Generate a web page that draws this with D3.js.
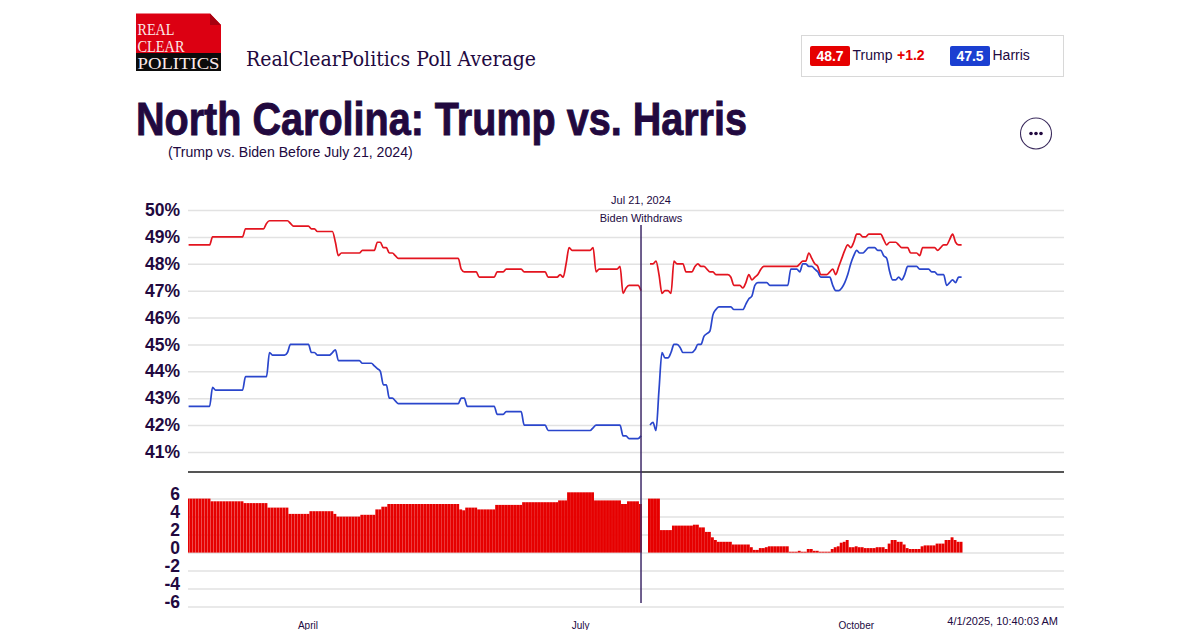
<!DOCTYPE html>
<html>
<head>
<meta charset="utf-8">
<script src="https://d3js.org/d3.v7.min.js"></script>
<style>
html,body{margin:0;padding:0;background:#fff;overflow:hidden}
svg{display:block}
text{font-family:"Liberation Sans",Arial,sans-serif}
</style>
</head>
<body>
<svg id="c" width="1200" height="630"></svg>
<script>
const startDate = "2024-02-21";
const endDate = "2024-11-05";
const pollTicks = [50,49,48,47,46,45,44,43,42,41];
const spreadTicks = [6,4,2,0,-2,-4,-6];
const monthTicks = ["2024-04-01","2024-07-01","2024-10-01"];
const eventDate = "2024-07-21";
const eventLabels = ["Jul 21, 2024","Biden Withdraws"];
const titleText = "North Carolina: Trump vs. Harris";
const subTitleText = "(Trump vs. Biden Before July 21, 2024)";
const sourceText = "RealClearPolitics Poll Average";
const stampText = "4/1/2025, 10:40:03 AM";
const names = ["Trump","Harris"];
const latest = ["48.7","47.5"];
const lead = "+1.2";

// daily values, ten per row, starting at startDate
const trump = [
48.7,48.7,48.7,48.7,48.7,48.7,48.7,48.7,49.0,49.0,
49.0,49.0,49.0,49.0,49.0,49.0,49.0,49.0,49.0,49.3,
49.3,49.3,49.3,49.3,49.3,49.3,49.5,49.6,49.6,49.6,
49.6,49.6,49.6,49.6,49.5,49.4,49.4,49.4,49.4,49.4,
49.4,49.3,49.3,49.2,49.2,49.2,49.2,49.2,49.2,48.8,
48.3,48.4,48.4,48.4,48.4,48.4,48.4,48.4,48.5,48.5,
48.5,48.5,48.5,48.8,48.8,48.6,48.6,48.4,48.4,48.3,
48.2,48.2,48.2,48.2,48.2,48.2,48.2,48.2,48.2,48.2,
48.2,48.2,48.2,48.2,48.2,48.2,48.2,48.2,48.2,48.2,
48.2,47.8,47.7,47.7,47.7,47.7,47.7,47.5,47.5,47.5,
47.5,47.5,47.5,47.7,47.7,47.7,47.8,47.8,47.8,47.8,
47.8,47.8,47.7,47.7,47.7,47.7,47.7,47.7,47.7,47.7,
47.5,47.5,47.5,47.5,47.6,47.5,48.0,48.6,48.5,48.5,
48.5,48.5,48.5,48.5,48.5,48.6,47.7,47.8,47.8,47.8,
47.8,47.8,47.8,47.8,47.9,46.9,47.1,47.2,47.2,47.2,
47.2,47.0,null,null,48.0,48.0,48.1,47.6,46.9,47.0,
47.0,46.9,48.1,48.0,48.0,48.0,47.7,47.7,47.7,47.9,
48.0,47.9,47.9,47.8,47.7,47.7,47.6,47.6,47.6,47.6,
47.6,47.5,47.2,47.2,47.2,47.1,47.3,47.6,47.4,47.5,
47.6,47.8,47.9,47.9,47.9,47.9,47.9,47.9,47.9,47.9,
47.9,47.9,47.9,47.9,48.0,48.1,48.1,48.4,48.2,48.0,
47.9,47.6,47.6,47.6,47.7,47.8,47.6,47.9,48.2,48.5,
48.7,48.6,48.8,49.1,49.1,49.0,49.0,49.1,49.1,49.1,
49.1,49.1,48.9,48.7,48.8,48.8,48.8,48.7,48.6,48.6,
48.6,48.4,48.4,48.4,48.3,48.6,48.6,48.6,48.6,48.6,
48.5,48.6,48.7,48.7,48.9,49.1,48.8,48.7,48.7];

const harris = [
42.7,42.7,42.7,42.7,42.7,42.7,42.7,42.7,43.4,43.3,
43.3,43.3,43.3,43.3,43.3,43.3,43.3,43.3,43.3,43.8,
43.8,43.8,43.8,43.8,43.8,43.8,43.8,44.7,44.6,44.6,
44.6,44.6,44.6,44.7,45.0,45.0,45.0,45.0,45.0,45.0,
45.0,44.7,44.7,44.6,44.6,44.6,44.6,44.6,44.7,44.8,
44.4,44.4,44.4,44.4,44.4,44.4,44.4,44.4,44.3,44.3,
44.3,44.3,44.2,44.1,44.0,43.5,43.5,43.0,43.0,42.9,
42.8,42.8,42.8,42.8,42.8,42.8,42.8,42.8,42.8,42.8,
42.8,42.8,42.8,42.8,42.8,42.8,42.8,42.8,42.8,42.8,
42.8,43.0,43.0,42.7,42.7,42.7,42.7,42.7,42.7,42.7,
42.7,42.7,42.7,42.4,42.4,42.4,42.5,42.5,42.5,42.5,
42.5,42.5,42.0,42.0,42.0,42.0,42.0,42.0,42.0,42.0,
41.8,41.8,41.8,41.8,41.8,41.8,41.8,41.8,41.8,41.8,
41.8,41.8,41.8,41.8,41.8,41.9,42.0,42.0,42.0,42.0,
42.0,42.0,42.0,42.0,42.0,41.6,41.6,41.5,41.5,41.5,
41.5,41.6,null,null,42.0,42.1,41.8,43.3,44.7,44.5,
44.5,44.7,45.0,45.0,44.9,44.7,44.7,44.7,44.7,44.8,
45.0,45.0,45.3,45.4,45.5,46.1,46.3,46.4,46.4,46.4,
46.4,46.4,46.3,46.3,46.3,46.3,46.5,46.7,46.8,47.2,
47.3,47.3,47.3,47.3,47.2,47.2,47.2,47.2,47.2,47.2,
47.2,47.8,47.8,47.8,47.7,48.0,48.0,47.9,47.9,47.8,
47.7,47.5,47.5,47.5,47.5,47.2,47.0,47.0,47.1,47.3,
47.6,48.0,48.3,48.5,48.4,48.4,48.5,48.6,48.6,48.6,
48.5,48.5,48.3,48.2,47.7,47.4,47.4,47.5,47.4,47.6,
47.9,47.9,47.9,47.9,47.8,47.8,47.8,47.8,47.7,47.7,
47.6,47.6,47.6,47.2,47.3,47.4,47.3,47.5,47.5];

const spread = [
6.0,6.0,6.0,6.0,6.0,6.0,6.0,6.0,5.7,5.7,
5.7,5.7,5.7,5.7,5.7,5.7,5.7,5.7,5.7,5.5,
5.5,5.5,5.5,5.5,5.5,5.5,5.5,5.0,5.0,5.0,
5.0,5.0,5.0,5.0,4.3,4.3,4.3,4.3,4.3,4.3,
4.3,4.6,4.6,4.6,4.6,4.6,4.6,4.6,4.6,4.3,
4.0,4.0,4.0,4.0,4.0,4.0,4.0,4.0,4.2,4.2,
4.2,4.2,4.2,4.8,4.8,5.1,5.1,5.4,5.4,5.4,
5.4,5.4,5.4,5.4,5.4,5.4,5.4,5.4,5.4,5.4,
5.4,5.4,5.4,5.4,5.4,5.4,5.4,5.4,5.4,5.4,
5.4,4.8,4.7,5.0,5.0,5.0,5.0,4.8,4.8,4.8,
4.8,4.8,4.8,5.3,5.3,5.3,5.3,5.3,5.3,5.3,
5.3,5.3,5.6,5.6,5.6,5.6,5.6,5.6,5.6,5.6,
5.6,5.6,5.6,5.6,5.8,5.8,5.8,6.7,6.7,6.7,
6.7,6.7,6.7,6.7,6.7,6.7,5.8,5.8,5.8,5.8,
5.8,5.8,5.8,5.8,5.8,5.4,5.4,5.7,5.7,5.7,
5.7,5.4,null,null,6.0,6.0,6.0,6.0,2.5,2.5,
2.5,2.5,3.0,3.0,3.0,3.0,3.0,3.0,3.0,3.1,
3.1,2.8,2.8,2.3,2.3,1.7,1.4,1.2,1.2,1.2,
1.2,1.2,0.9,0.9,0.9,0.9,0.9,0.9,0.6,0.3,
0.3,0.5,0.5,0.6,0.7,0.7,0.7,0.7,0.7,0.7,
0.7,0.1,0.1,0.1,0.2,0.1,0.1,0.4,0.4,0.2,
0.2,0.1,0.1,0.1,0.1,0.4,0.6,0.7,1.1,1.2,
1.4,0.6,0.6,0.7,0.6,0.6,0.5,0.5,0.5,0.5,
0.6,0.6,0.6,0.4,1.0,1.4,1.4,1.2,1.2,0.9,
0.5,0.4,0.4,0.4,0.4,0.7,0.8,0.8,0.8,0.8,
1.0,1.0,1.0,1.4,1.4,1.7,1.4,1.2,1.2];

const INK = "#22093f", RED = "#e60000", BLUE = "#1b3fd1", GRID = "#e2e2e2";
const svg = d3.select("#c");
const parse = d3.utcParse("%Y-%m-%d");
const days = trump.map((_, i) => d3.utcDay.offset(parse(startDate), i));

const x = d3.scaleUtc().domain([parse(startDate), parse(endDate)]).range([188.6, 961.6]);
const y = d3.scaleLinear().domain([41, 50]).range([452, 210]);
const yS = d3.scaleLinear().domain([-6, 6]).range([606.6, 498.6]);
const left = 188, right = 1064;

/* ---------- header ---------- */
const logo = svg.append("g");
logo.append("path").attr("d","M136 13.5H210L221 25V53H136Z").attr("fill","#dc0012");
logo.append("path").attr("d","M210 13.5V25H221Z").attr("fill","#a80010");
logo.append("rect").attr("x",136).attr("y",53).attr("width",85).attr("height",18).attr("fill","#0b0b0b");
[["REAL",137.5,34.5,37],["CLEAR",137.5,51.5,47],["POLITICS",137.5,68.5,82]].forEach(t=>{
  logo.append("text").text(t[0]).attr("x",t[1]).attr("y",t[2])
    .attr("textLength",t[3]).attr("lengthAdjust","spacingAndGlyphs")
    .style("font-family",'"Liberation Serif",serif').style("font-size","16px").attr("fill","#fbeaea");
});
svg.append("text").text(sourceText).attr("x",246).attr("y",66)
  .attr("textLength",290).attr("lengthAdjust","spacingAndGlyphs")
  .style("font-family",'"DejaVu Serif","Liberation Serif",serif').style("font-size","20px").attr("fill",INK);
svg.append("text").text(titleText).attr("x",136).attr("y",135)
  .attr("textLength",611).attr("lengthAdjust","spacingAndGlyphs")
  .attr("stroke",INK).attr("stroke-width",0.9)
  .style("font-family",'"Liberation Sans Narrow","Liberation Sans",sans-serif')
  .style("font-size","47px").style("font-weight","700").attr("fill",INK);
svg.append("text").text(subTitleText).attr("x",168).attr("y",156.5)
  .style("font-size","14.1px").attr("fill",INK);

/* ---------- legend ---------- */
svg.append("rect").attr("x",801.5).attr("y",35.5).attr("width",262).attr("height",41)
  .attr("fill","#fff").attr("stroke","#d8d8d8");
[[810,RED],[950,BLUE]].forEach((b,i)=>{
  svg.append("rect").attr("x",b[0]).attr("y",46).attr("width",40).attr("height",20).attr("rx",2).attr("fill",b[1]);
  svg.append("text").text(latest[i]).attr("x",b[0]+20).attr("y",61).attr("text-anchor","middle")
    .style("font-size","14px").style("font-weight","700").attr("fill","#fff");
  svg.append("text").text(names[i]).attr("x",b[0]+42.5).attr("y",60)
    .style("font-size","14px").attr("fill",INK);
});
svg.append("text").text(lead).attr("x",897).attr("y",60)
  .style("font-size","14px").style("font-weight","700").attr("fill",RED);

svg.append("circle").attr("cx",1036).attr("cy",133.5).attr("r",15.5).attr("fill","#fff").attr("stroke","#3a2a5c").attr("stroke-width",1.1);
[-5,0,5].forEach(d=>svg.append("circle").attr("cx",1036+d).attr("cy",133.5).attr("r",1.8).attr("fill",INK));

/* ---------- axes ---------- */
function styleAxis(g, shift){
  g.select(".domain").remove();
  g.selectAll(".tick line").attr("stroke",GRID).attr("stroke-width",1.5);
  g.selectAll(".tick text").attr("x",-8).attr("dy",shift)
    .style("font-size","17.5px").style("font-weight","700").style("font-family",'"Liberation Sans",Arial,sans-serif')
    .attr("fill",INK);
}
svg.append("g").attr("transform",`translate(${left},0)`)
  .call(d3.axisLeft(y).tickValues(pollTicks).tickFormat(d=>d+"%").tickSize(-(right-left)))
  .call(g=>styleAxis(g,"0.32em"));
svg.append("g").attr("transform",`translate(${left},0)`)
  .call(d3.axisLeft(yS).tickValues(spreadTicks).tickFormat(d=>String(d)).tickSize(-(right-left)))
  .call(g=>styleAxis(g,"0.07em"));

svg.append("line").attr("x1",left).attr("x2",right).attr("y1",472).attr("y2",472)
  .attr("stroke","#555").attr("stroke-width",2);

const xAxis = svg.append("g").attr("transform","translate(-1,619)")
  .call(d3.axisBottom(x).tickValues(monthTicks.map(parse)).tickFormat(d3.utcFormat("%B")).tickSize(0));
xAxis.select(".domain").remove();
xAxis.selectAll("text").attr("y",3).attr("dy","0.71em").style("font-size","10px")
  .style("font-family",'"Liberation Sans",Arial,sans-serif').attr("fill",INK);

/* ---------- bars ---------- */
svg.append("defs").append("clipPath").attr("id","plot").append("rect")
  .attr("x",left).attr("y",470).attr("width",right-left).attr("height",140);
svg.append("g").attr("clip-path","url(#plot)").selectAll("rect")
  .data(spread.map((v,i)=>({v,d:days[i]})).filter(p=>p.v!==null)).join("rect")
  .attr("x",p=>x(p.d)-2).attr("width",2.9)
  .attr("y",p=>yS(p.v)).attr("height",p=>yS(0)-yS(p.v))
  .attr("fill",RED);

/* ---------- lines ---------- */
const line = d3.line().defined(p=>p.v!==null).x(p=>x(p.d)).y(p=>y(p.v)).curve(d3.curveMonotoneX);
[[trump,"#e3141f"],[harris,"#2a46cc"]].forEach(s=>{
  svg.append("path").datum(s[0].map((v,i)=>({v,d:days[i]})))
    .attr("d",line).attr("fill","none").attr("stroke",s[1]).attr("stroke-width",1.7);
});

/* ---------- event marker ---------- */
const ex = x(parse(eventDate));
svg.append("line").attr("x1",ex).attr("x2",ex).attr("y1",225).attr("y2",603)
  .attr("stroke","#3f2a68").attr("stroke-width",1.5);
eventLabels.forEach((t,i)=>svg.append("text").text(t).attr("x",ex).attr("y",204+i*17.5)
  .attr("text-anchor","middle").style("font-size","11px").attr("fill",INK));

svg.append("text").text(stampText).attr("x",1058).attr("y",625).attr("text-anchor","end")
  .style("font-size","11px").attr("fill",INK);
</script>
</body>
</html>
